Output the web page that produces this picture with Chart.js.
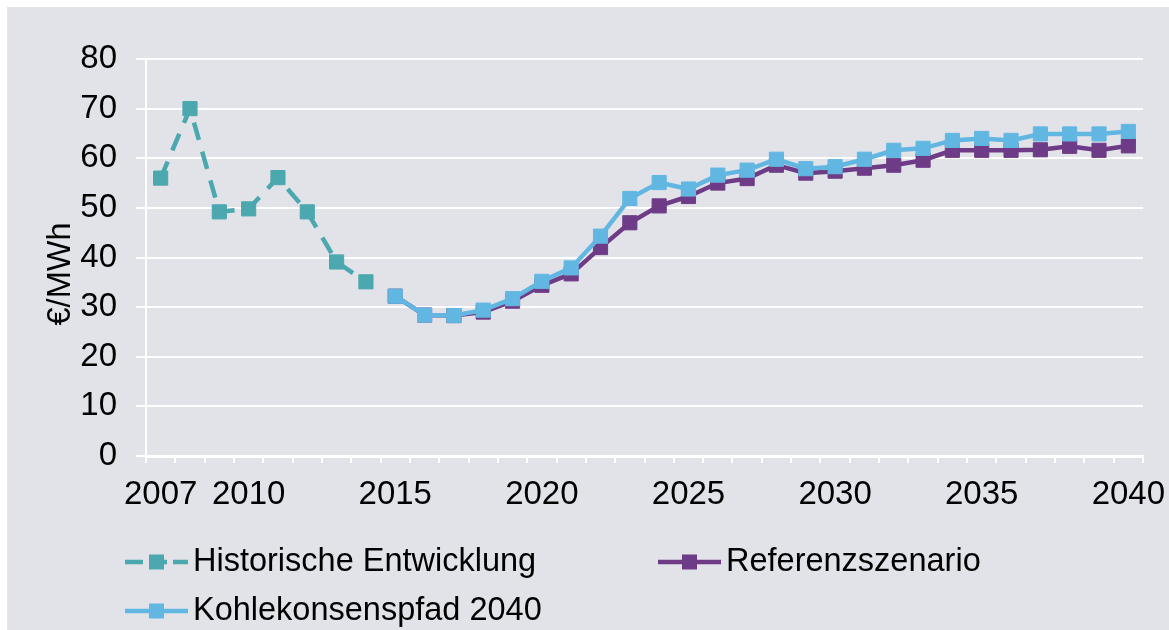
<!DOCTYPE html>
<html>
<head>
<meta charset="utf-8">
<script src="https://cdn.jsdelivr.net/npm/chart.js@4/dist/chart.umd.min.js"></script>
<style>
  html, body { margin: 0; padding: 0; background: #ffffff; }
  #wrap { position: absolute; left: 7px; top: 7px; width: 1162px; height: 623px; background: #e2e3e8; }
  canvas { display: block; }
</style>
</head>
<body>
<div id="wrap"><canvas id="priceChart" width="1162" height="623"></canvas></div>
<script>
const years = ['2007', '2008', '2009', '2010', '2011', '2012', '2013', '2014', '2015', '2016',
  '2017', '2018', '2019', '2020', '2021', '2022', '2023', '2024', '2025', '2026', '2027',
  '2028', '2029', '2030', '2031', '2032', '2033', '2034', '2035', '2036', '2037', '2038',
  '2039', '2040'];
const shownYears = ['2007', '2010', '2015', '2020', '2025', '2030', '2035', '2040'];

const historisch = [56.0, 70.0, 49.2, 49.8, 56.1, 49.2, 39.1, 35.1];
const referenz = [null, null, null, null, null, null, null, null,
  32.2, 28.4, 28.3, 29.0, 31.2, 34.4, 36.7, 42.0, 47.0, 50.4, 52.3, 55.0, 55.9,
  58.6, 57.0, 57.4, 58.0, 58.6, 59.6, 61.6, 61.6, 61.6, 61.7, 62.4, 61.6, 62.5];
const kohlekonsens = [null, null, null, null, null, null, null, null,
  32.2, 28.4, 28.3, 29.4, 31.7, 35.2, 37.9, 44.3, 51.9, 55.1, 53.8, 56.6, 57.6,
  59.8, 57.9, 58.3, 59.8, 61.6, 62.0, 63.6, 64.0, 63.6, 64.9, 64.9, 64.9, 65.4];

const seriesNames = ['Historische Entwicklung', 'Referenzszenario', 'Kohlekonsenspfad 2040'];
const colors = ['#4aa8ae', '#6e3c87', '#62b7e2'];

Chart.defaults.font.family = "'Liberation Sans', Arial, sans-serif";
Chart.defaults.font.size = 33;
Chart.defaults.color = '#000000';

// legend in Excel style (line + square marker) and y axis title
const excelLegend = {
  id: 'excelLegend',
  afterDraw(chart) {
    const ctx = chart.ctx;
    const spots = [[118, 555], [651, 555], [118, 604]];
    ctx.save();
    chart.data.datasets.forEach((ds, i) => {
      const [x, y] = spots[i];
      ctx.strokeStyle = ds.borderColor;
      ctx.lineWidth = 4.5;
      ctx.setLineDash(ds.borderDash ? [18, 6] : []);
      ctx.beginPath();
      ctx.moveTo(x, y);
      ctx.lineTo(x + 63, y);
      ctx.stroke();
      ctx.fillStyle = ds.borderColor;
      ctx.fillRect(x + 24, y - 7.5, 15, 15);
      ctx.fillStyle = '#000000';
      ctx.font = "32.5px 'Liberation Sans', Arial, sans-serif";
      ctx.textAlign = 'left';
      ctx.textBaseline = 'middle';
      ctx.fillText(ds.label, x + 68, y);
    });
    ctx.translate(54, 267);
    ctx.rotate(-Math.PI / 2);
    ctx.textAlign = 'center';
    ctx.fillText('€/MWh', 0, 0);
    ctx.restore();
  }
};

const ctx = document.getElementById('priceChart').getContext('2d');
const priceChart = new Chart(ctx, {
  type: 'line',
  data: {
    labels: years,
    datasets: [{
      label: seriesNames[0],
      data: historisch,
      borderColor: colors[0],
      backgroundColor: colors[0],
      borderWidth: 4.5,
      borderDash: [18, 12],
      pointStyle: 'rect',
      pointRadius: 10,
      pointBorderWidth: 1,
      order: 2
    }, {
      label: seriesNames[1],
      data: referenz,
      borderColor: colors[1],
      backgroundColor: colors[1],
      borderWidth: 4.5,
      pointStyle: 'rect',
      pointRadius: 10,
      pointBorderWidth: 1,
      order: 1
    }, {
      label: seriesNames[2],
      data: kohlekonsens,
      borderColor: colors[2],
      backgroundColor: colors[2],
      borderWidth: 4.5,
      pointStyle: 'rect',
      pointRadius: 10,
      pointBorderWidth: 1,
      order: 0
    }]
  },
  options: {
    responsive: false,
    animation: false,
    layout: { padding: { top: 52, right: 26, left: 0, bottom: 0 } },
    plugins: {
      legend: { display: false },
      tooltip: { enabled: false }
    },
    scales: {
      x: {
        offset: true,
        afterFit(scale) {
          scale.height = 174;
          scale.paddingLeft = 0;
          scale.paddingRight = 0;
        },
        border: { color: '#ffffff', width: 3 },
        grid: {
          offset: true,
          drawOnChartArea: false,
          drawTicks: true,
          tickLength: 7,
          color: '#ffffff',
          lineWidth: 2
        },
        ticks: {
          autoSkip: false,
          maxRotation: 0,
          padding: 12,
          callback(value) {
            const y = this.getLabelForValue(value);
            return shownYears.includes(y) ? y : '';
          }
        }
      },
      y: {
        min: 0,
        max: 80,
        afterFit(scale) { scale.width = 139; },
        border: { color: '#ffffff', width: 2 },
        grid: {
          color: '#ffffff',
          lineWidth: 2,
          tickLength: 10
        },
        ticks: {
          stepSize: 10,
          padding: 19
        }
      }
    }
  },
  plugins: [excelLegend]
});
</script>
</body>
</html>
